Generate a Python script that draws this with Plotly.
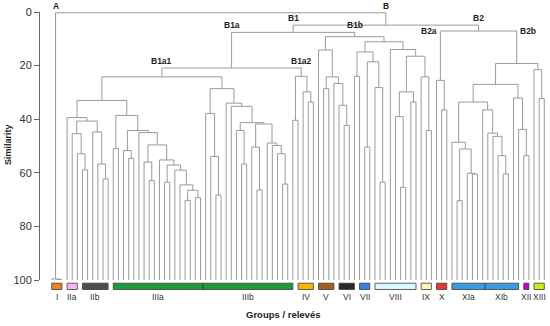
import plotly.graph_objects as go

# ---------------- data ----------------
SIM_TICKS = [0, 20, 40, 60, 80, 100]

# Subtrees written as [left, right, similarity]; integers are relevés (leaves) in plotted order.
GROUP_I = [0, [1, 2, 99.8], 99.6]
CL_II = [3, [[4, [5, [6, 7, 58.9], 52.9], 45.4],
             [8, [9, [10, 11, 62.3], 56.7], 44.8], 40.7], 39.4]
CL_IIIA = [[12, 13, 51.0],
           [[14, [15, 16, 54.6], 51.7],
            [17, [[18, [19, 20, 62.9], 56.0],
                  [21, [[22, 23, 63.5],
                        [24, [25, [[26, 27, 70.3], [28, 29, 69.3], 66.5], 64.5], 59.0], 57.1], 55.2],
                  49.6], 45.0], 44.2], 38.6]
CL_IIIB = [[30, [31, [32, 33, 68.3], 53.9], 37.9],
           [34, [35, [[36, [37, 38, 56.7], 44.2],
                      [[39, [40, 41, 66.4], 50.4],
                       [42, [43, [44, [45, 46, 64.2], 52.9], 49.8], 48.9], 41.8], 41.3], 35.2], 34.0], 28.6]
B1A1 = [[CL_II, CL_IIIA, 33.0], CL_IIIB, 24.2]
B1A2 = [[47, 48, 40.4], [49, [50, 51, 33.6], 29.8], 24.0]
B1A = [B1A1, B1A2, 20.9]
B1B_LEFT = [52, [[53, 54, 28.6], [55, [56, [57, 58, 42.3], 34.8], 26.7], 24.2], 14.2]
B1B_RIGHT = [[[59, 60, 24.0], [[61, 62, 50.4], [63, [64, 65, 63.5], 28.2], 18.6], 14.9],
             [66, [[[67, [68, 69, 65.4], 39.0], [70, 71, 33.6], 29.8],
                   [72, [73, 74, 44.2], 24.2], 16.5], 14.0], 11.1]
B1B = [B1B_LEFT, B1B_RIGHT, 9.2]
B1 = [B1A, B1B, 7.6]
B2A = [75, [76, 77, 36.5], 25.5]
CL_XI = [[78, [[79, 80, 70.4], [81, [82, 83, 60.5], 60.2], 51.1], 48.6],
         [84, [85, [86, [87, [88, 89, 60.4], 53.6], 46.4], 45.2], 36.5], 33.6]
CL_XII = [90, [91, [92, 93, 53.6], 43.8], 32.1]
CL_XIII = [94, [95, 96, 32.3], 21.5]
B2B = [[CL_XI, CL_XII, 27.0], CL_XIII, 19.2]
B2 = [B2A, B2B, 7.1]
B = [B1, B2, 4.9]
ROOT = [GROUP_I, B, 0.3]

GROUP_NAMES = ["I", "IIa", "IIb", "IIIa", "IIIb", "IV", "V", "VI", "VII", "VIII",
               "IX", "X", "XIa", "XIb", "XII", "XIII"]
GROUP_FIRST = [0, 3, 6, 12, 29.5, 48, 52, 56, 60, 63, 72, 75, 78, 84.5, 92, 94]
GROUP_LAST = [2, 5, 11, 29.5, 47, 51, 55, 59, 62, 71, 74, 77, 84.5, 91, 93, 96]
GROUP_COLORS = ["#F07F1E", "#F4B6F4", "#4D4D4D", "#1C9A3C", "#1C9A3C", "#F6B400",
                "#A0611F", "#2A2A2A", "#3B7FE0", "#D9F8FC", "#FFF4B8", "#E53935",
                "#3A9AE0", "#3A9AE0", "#CC00CC", "#C6F016"]

# node labels: (text, subtree, parent subtree, alignment)
NODE_LABELS = [("A", GROUP_I, ROOT, "center"), ("B", B, ROOT, "center"),
               ("B1", B1, B, "center"), ("B2", B2, B, "center"),
               ("B1a", B1A, B1, "center"), ("B1b", B1B, B1, "center"),
               ("B2a", B2A, B2, "right"), ("B2b", B2B, B2, "left"),
               ("B1a1", B1A1, B1A, "center"), ("B1a2", B1A2, B1A, "center")]

# ---------------- dendrogram geometry ----------------
xs, ys = [], []
pos = {}


def place(node):
    if isinstance(node, int):
        return float(node), 100.0
    left, right, h = node
    xl, hl = place(left)
    xr, hr = place(right)
    xs.extend([xl, xl, xr, xr, None])
    ys.extend([hl, h, h, hr, None])
    xm = (xl + xr) / 2
    pos[id(node)] = xm
    return xm, h


place(ROOT)

W, H = 550, 326
PLOT_L, PLOT_R, PLOT_T, PLOT_B = 40, 548, 12, 280   # in page pixels
ML, MR, MT, MB = PLOT_L, W - PLOT_R, PLOT_T, H - PLOT_B
PW, PH = PLOT_R - PLOT_L, PLOT_B - PLOT_T
SPACING = 5.131
X0 = -(51.7 - PLOT_L) / SPACING
X1 = X0 + PW / SPACING


def py(p):  # page pixel y -> paper
    return (PLOT_B - p) / PH


def px(p):  # page pixel x -> paper
    return (p - PLOT_L) / PW


FONT = "Arial, Liberation Sans, sans-serif"
LINE = "#9a9a9a"

fig = go.Figure()
fig.add_trace(go.Scatter(x=xs, y=ys, mode="lines", line=dict(color=LINE, width=1),
                         hoverinfo="skip", showlegend=False))

shapes = []
annotations = []
for name, a, b, c in zip(GROUP_NAMES, GROUP_FIRST, GROUP_LAST, GROUP_COLORS):
    shapes.append(dict(type="rect", xref="x", yref="paper", x0=a, x1=b,
                       y0=py(289.5), y1=py(283.2), fillcolor=c,
                       line=dict(color="#3c3c3c", width=0.8), layer="above"))
for name, a, b in zip(GROUP_NAMES, GROUP_FIRST, GROUP_LAST):
    annotations.append(dict(x=(a + b) / 2, y=py(297), xref="x", yref="paper", text=name,
                            showarrow=False, font=dict(family=FONT, size=8.5, color="#333333"),
                            xanchor="center", yanchor="middle"))

for text, sub, parent, align in NODE_LABELS:
    xpos = pos[id(sub)]
    h = parent[2]
    if align == "center":
        annotations.append(dict(x=xpos, y=h, xref="x", yref="y", text="<b>%s</b>" % text,
                                showarrow=False, xanchor="center", yanchor="bottom", yshift=0,
                                font=dict(family=FONT, size=8.5, color="#222222")))
    else:
        annotations.append(dict(x=xpos, y=h, xref="x", yref="y", text="<b>%s</b>" % text,
                                showarrow=False, xanchor=align, yanchor="middle", yshift=0,
                                xshift=(-1 if align == "right" else 1),
                                font=dict(family=FONT, size=8.5, color="#222222")))

annotations.append(dict(x=px(8), y=py(145), xref="paper", yref="paper", text="<b>Similarity</b>",
                        textangle=-90, showarrow=False, xanchor="center", yanchor="middle",
                        font=dict(family=FONT, size=9, color="#222222")))
annotations.append(dict(x=px(283), y=py(314), xref="paper", yref="paper",
                        text="<b>Groups / relevés</b>", showarrow=False,
                        xanchor="center", yanchor="middle",
                        font=dict(family=FONT, size=9.5, color="#222222")))

fig.update_layout(
    width=W, height=H, margin=dict(l=ML, r=MR, t=MT, b=MB, pad=0),
    paper_bgcolor="white", plot_bgcolor="white",
    xaxis=dict(range=[X0, X1], visible=False),
    yaxis=dict(range=[100, 0], tickvals=SIM_TICKS, ticks="outside", ticklen=5,
               tickcolor="#666666", showline=True, linecolor="#666666", linewidth=1,
               showgrid=False, zeroline=False,
               tickfont=dict(family=FONT, size=11, color="#333333")),
    shapes=shapes, annotations=annotations, showlegend=False,
)

# the page's default body margin would shift the 550x326 figure; remove it
fig.write_html("out.html", config={"displayModeBar": False},
               post_script="document.body.style.margin='0px';")
